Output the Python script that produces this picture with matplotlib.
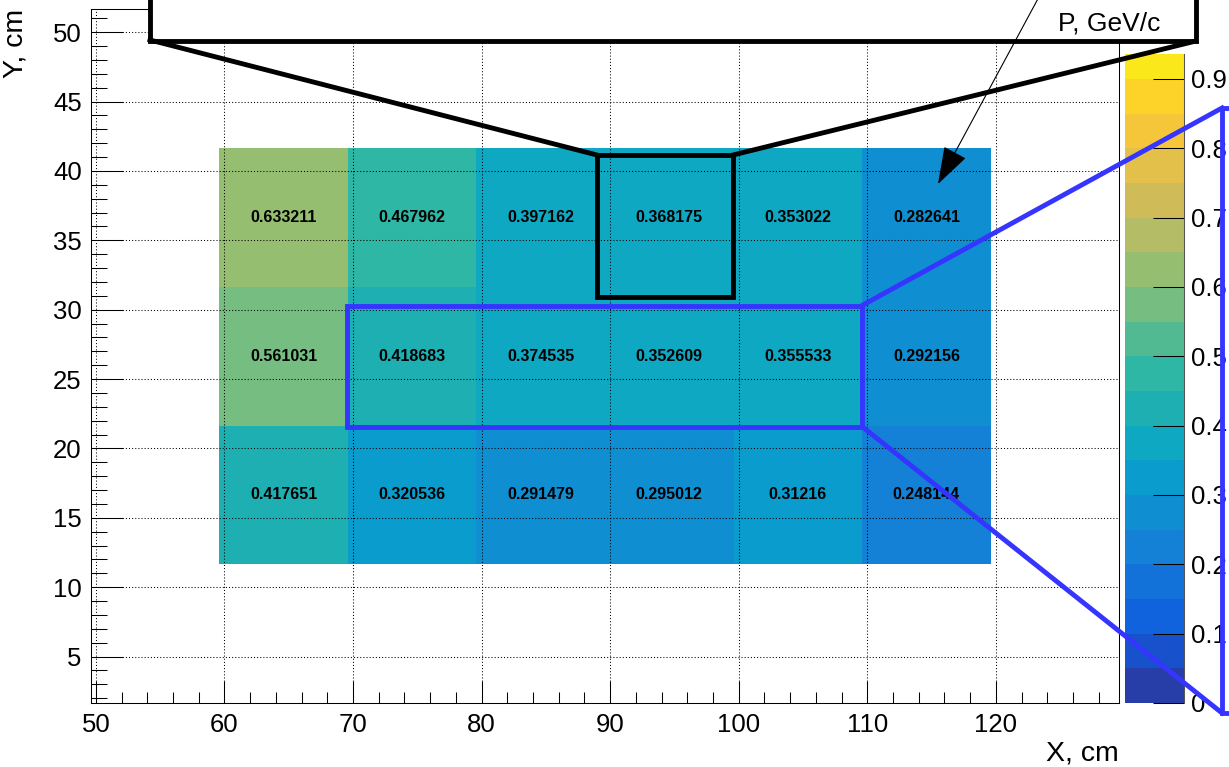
import numpy as np
import matplotlib
matplotlib.use("Agg")
import matplotlib.pyplot as plt
from matplotlib.colors import LinearSegmentedColormap, ListedColormap, BoundaryNorm
from matplotlib.patches import Rectangle
from matplotlib.lines import Line2D

plt.rcParams["font.family"] = ["Liberation Sans", "DejaVu Sans"]

# bin edges of the filled cells (cm)
x_edges = [59.6, 69.6, 79.6, 89.6, 99.6, 109.6, 119.6]
y_edges = [11.65, 21.65, 31.65, 41.65]

# momentum per cell, rows from bottom to top
row_low = [0.417651, 0.320536, 0.291479, 0.295012, 0.31216, 0.248144]
row_mid = [0.561031, 0.418683, 0.374535, 0.352609, 0.355533, 0.292156]
row_top = [0.633211, 0.467962, 0.397162, 0.368175, 0.353022, 0.282641]

z_max = 0.936
z_levels = [0.05 * i for i in range(19)] + [z_max]
cbar_ticks = [0, 0.1, 0.2, 0.3, 0.4, 0.5, 0.6, 0.7, 0.8, 0.9]
cbar_labels = ["0", "0.1", "0.2", "0.3", "0.4", "0.5", "0.6", "0.7", "0.8", "0.9"]

x_range = (49.6, 129.6)
y_range = (1.65, 51.65)

# ROOT kBird palette
stops = [0.0, 0.125, 0.25, 0.375, 0.5, 0.625, 0.75, 0.875, 1.0]
red = [0.2082, 0.0592, 0.0780, 0.0232, 0.1802, 0.5301, 0.8186, 0.9956, 0.9764]
green = [0.1664, 0.3599, 0.5041, 0.6419, 0.7178, 0.7492, 0.7328, 0.7862, 0.9832]
blue = [0.5293, 0.8684, 0.8385, 0.7914, 0.6425, 0.4662, 0.3499, 0.1968, 0.0539]
bird = LinearSegmentedColormap.from_list(
    "bird", [(s, (r, g, b)) for s, r, g, b in zip(stops, red, green, blue)])
band_colors = [bird((i + 0.99) / 20) for i in range(len(z_levels) - 1)]
cmap = ListedColormap(band_colors)
norm = BoundaryNorm(z_levels, cmap.N)

W, H = 1229, 767
fig = plt.figure(figsize=(W / 100, H / 100), dpi=100)
ax = fig.add_axes([90.7 / W, 64 / H, 1028.6 / W, 693.7 / H])

z = np.array([row_low, row_mid, row_top])
mesh = ax.pcolormesh(x_edges, y_edges, z, cmap=cmap, norm=norm, zorder=0.5)

xc = [(a + b) / 2 for a, b in zip(x_edges[:-1], x_edges[1:])]
yc = [(a + b) / 2 for a, b in zip(y_edges[:-1], y_edges[1:])]
for j, row in enumerate(z):
    for i, v in enumerate(row):
        ax.text(xc[i], yc[j], f"{v:g}", ha="center", va="center",
                fontsize=11.5, fontweight="bold", zorder=3)

ax.set_xlim(*x_range)
ax.set_ylim(*y_range)
ax.set_xticks(np.arange(50, 121, 10))
ax.set_xticks(np.arange(50, 129, 2), minor=True)
ax.set_yticks(np.arange(5, 51, 5))
ax.set_yticks(np.arange(2, 52, 1), minor=True)
ax.grid(True, which="major", color="black", linestyle=(0, (1, 2)), linewidth=0.75)
ax.tick_params(axis="x", which="major", direction="in", length=15.8, width=0.75,
               labelsize=18.5, pad=7)
ax.tick_params(axis="x", which="minor", direction="in", length=7.9, width=0.75)
ax.tick_params(axis="y", which="major", direction="in", length=23, width=0.75,
               labelsize=18.5, pad=6.5)
ax.tick_params(axis="y", which="minor", direction="in", length=11.5, width=0.75)
for s in ax.spines.values():
    s.set_linewidth(0.75)

fig.text(1119 / W, 1 - 761 / H, "X, cm", ha="right", va="baseline", fontsize=20.5)
fig.text(15 / W, 1 - 9 / H, "Y, cm", ha="center", va="top", rotation=90, fontsize=20.5)

cax = fig.add_axes([1125 / W, 64 / H, 59 / W, 649 / H])
cbar = fig.colorbar(mesh, cax=cax, ticks=cbar_ticks, spacing="proportional")
cbar.set_ticklabels(cbar_labels)
cbar.outline.set_visible(False)
cax.spines["right"].set_visible(True)
cax.spines["right"].set_linewidth(0.75)
cax.spines["right"].set_color("#555555")
cax.tick_params(direction="in", length=22, width=0.75, labelsize=18.5, pad=4.8)
cax.minorticks_off()

# overlay in pixel coordinates
ov = fig.add_axes([0, 0, 1, 1], zorder=10)
ov.set_xlim(0, W)
ov.set_ylim(H, 0)
ov.axis("off")

lw = 3.5
ov.add_patch(Rectangle((150, -20), 1046, 61, facecolor="white", edgecolor="black",
                       linewidth=lw, joinstyle="miter"))
ov.text(1160, 31, "P, GeV/c", ha="right", va="baseline", fontsize=19)
ov.add_line(Line2D([150, 597], [40, 155], color="black", linewidth=lw))
ov.add_line(Line2D([1196, 733], [41, 155], color="black", linewidth=lw))
ov.add_patch(Rectangle((597, 155), 136, 142, fill=False, edgecolor="black",
                       linewidth=lw, joinstyle="miter"))

ov.annotate("", xy=(938, 184), xytext=(1040, -5),
            arrowprops=dict(arrowstyle="-|>,head_length=1.5,head_width=0.5",
                            mutation_scale=16, color="black", lw=0.8,
                            shrinkA=0, shrinkB=0))

bc = "#3535ff"
ov.add_patch(Rectangle((347, 305.5), 515, 121, fill=False, edgecolor=bc,
                       linewidth=lw, joinstyle="miter"))
ov.add_line(Line2D([862, 1222], [305.5, 108], color=bc, linewidth=lw))
ov.add_line(Line2D([862, 1222], [426.5, 713], color=bc, linewidth=lw))
ov.add_patch(Rectangle((1222, 108), 40, 605, fill=False, edgecolor=bc,
                       linewidth=lw, joinstyle="miter"))

fig.savefig("out.png", dpi=100)
plt.close(fig)
